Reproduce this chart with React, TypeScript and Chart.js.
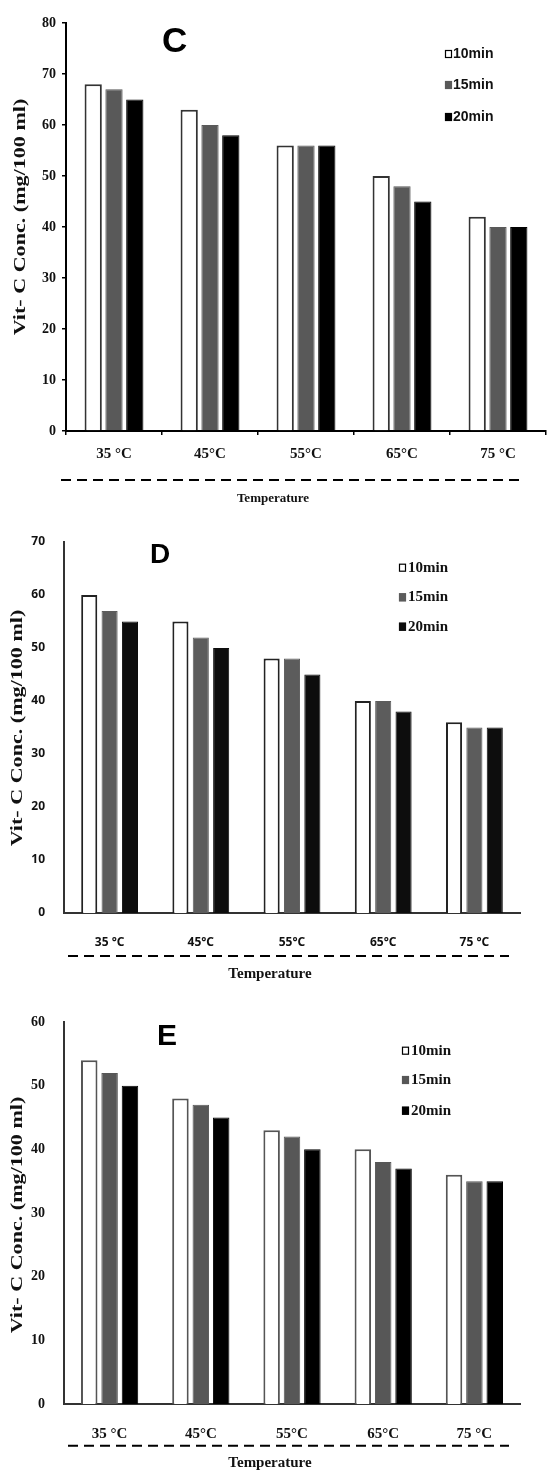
import React, { useEffect, useRef } from "react";
import { Chart, registerables } from "chart.js";

Chart.register(...registerables);

// ---------- DATA ----------
const categories = ["35 °C", "45°C", "55°C", "65°C", "75 °C"];
const seriesLabels = ["10min", "15min", "20min"];

const cTen = [68, 63, 56, 50, 42];
const cFifteen = [67, 60, 56, 48, 40];
const cTwenty = [65, 58, 56, 45, 40];

const dTen = [60, 55, 48, 40, 36];
const dFifteen = [57, 52, 48, 40, 35];
const dTwenty = [55, 50, 45, 38, 35];

const eTen = [54, 48, 43, 40, 36];
const eFifteen = [52, 47, 42, 38, 35];
const eTwenty = [50, 45, 40, 37, 35];

const cMax = 80;
const dMax = 70;
const eMax = 60;
const yStep = 10;

const yTitle = "Vit- C Conc. (mg/100 ml)";
const xTitle = "Temperature";

const SERIF = '"Liberation Serif", "Times New Roman", serif';
const SANS = '"Liberation Sans", Arial, sans-serif';

type PanelCfg = {
  letter: string;
  top: number;
  height: number;
  values: number[][];
  yMax: number;
  padTop: number;
  padRight: number;
  yWidth: number;
  xHeight: number;
  catPct: number;
  barPct: number;
  colors: { fill: string; border: string; bw: number }[];
  axisColor: string;
  axisWidth: number;
  tickMarks: boolean;
  yTickFont: any;
  xTickFont: any;
  yTickPad: number;
  xTickPad: number;
  letterSize: number;
  letterX: number;
  letterY: number;
  legendFont: string;
  legendY: number[];
  boxX: number;
  textX: number;
  dashY: number;
  dashX1: number;
  dashX2: number;
  xTitleFont: string;
  xTitleX: number;
  xTitleY: number;
  yTitleX: number;
  yTitleY: number;
  yTitleFont: string;
  yTitleScale: number;
};

const panels: PanelCfg[] = [
  {
    letter: "C",
    top: 0,
    height: 510,
    values: [cTen, cFifteen, cTwenty],
    yMax: cMax,
    padTop: 23,
    padRight: 1,
    yWidth: 66,
    xHeight: 79,
    catPct: 0.65,
    barPct: 0.83,
    colors: [
      { fill: "#ffffff", border: "#333333", bw: 2 },
      { fill: "#595959", border: "#595959", bw: 1 },
      { fill: "#000000", border: "#000000", bw: 1 },
    ],
    axisColor: "#000000",
    axisWidth: 2,
    tickMarks: true,
    yTickFont: { family: SERIF, size: 14, weight: "bold" },
    xTickFont: { family: SERIF, size: 15, weight: "bold" },
    yTickPad: 6,
    xTickPad: 10,
    letterSize: 35,
    letterX: 162,
    letterY: 52,
    legendFont: `bold 14px "Liberation Sans Narrow", ${SANS}`,
    legendY: [54, 85, 117],
    boxX: 445,
    textX: 453,
    dashY: 480,
    dashX1: 61,
    dashX2: 523,
    xTitleFont: `bold 13px ${SERIF}`,
    xTitleX: 273,
    xTitleY: 499,
    yTitleX: 21,
    yTitleY: 217,
    yTitleFont: `bold 17px ${SERIF}`,
    yTitleScale: 1.3,
  },
  {
    letter: "D",
    top: 510,
    height: 480,
    values: [dTen, dFifteen, dTwenty],
    yMax: dMax,
    padTop: 32,
    padRight: 27,
    yWidth: 64,
    xHeight: 77,
    catPct: 0.67,
    barPct: 0.79,
    colors: [
      { fill: "#ffffff", border: "#222222", bw: 2 },
      { fill: "#5c5c5c", border: "#5c5c5c", bw: 1 },
      { fill: "#0d0d0d", border: "#0d0d0d", bw: 1 },
    ],
    axisColor: "#333333",
    axisWidth: 2,
    tickMarks: false,
    yTickFont: { family: '"Noto Sans", sans-serif', size: 12, weight: "bold" },
    xTickFont: { family: '"Noto Sans", sans-serif', size: 12, weight: "bold" },
    yTickPad: 11,
    xTickPad: 14,
    letterSize: 28,
    letterX: 150,
    letterY: 53,
    legendFont: `bold 15px ${SERIF}`,
    legendY: [57.7, 87.3, 116.7],
    boxX: 399,
    textX: 408,
    dashY: 446,
    dashX1: 68,
    dashX2: 509,
    xTitleFont: `bold 15px ${SERIF}`,
    xTitleX: 270,
    xTitleY: 464,
    yTitleX: 18,
    yTitleY: 218,
    yTitleFont: `bold 17px ${SERIF}`,
    yTitleScale: 1.3,
  },
  {
    letter: "E",
    top: 990,
    height: 482,
    values: [eTen, eFifteen, eTwenty],
    yMax: eMax,
    padTop: 32,
    padRight: 27,
    yWidth: 64,
    xHeight: 68,
    catPct: 0.67,
    barPct: 0.81,
    colors: [
      { fill: "#ffffff", border: "#555555", bw: 2 },
      { fill: "#575757", border: "#575757", bw: 1 },
      { fill: "#000000", border: "#000000", bw: 1 },
    ],
    axisColor: "#333333",
    axisWidth: 2,
    tickMarks: false,
    yTickFont: { family: SERIF, size: 14, weight: "bold" },
    xTickFont: { family: SERIF, size: 15, weight: "bold" },
    yTickPad: 11,
    xTickPad: 13,
    letterSize: 30,
    letterX: 157,
    letterY: 55,
    legendFont: `bold 15px ${SERIF}`,
    legendY: [60.7, 90, 120.7],
    boxX: 402,
    textX: 411,
    dashY: 455.7,
    dashX1: 68,
    dashX2: 509,
    xTitleFont: `bold 15px ${SERIF}`,
    xTitleX: 270,
    xTitleY: 473,
    yTitleX: 18,
    yTitleY: 225,
    yTitleFont: `bold 17px ${SERIF}`,
    yTitleScale: 1.3,
  },
];

function makeDecor(cfg: PanelCfg) {
  return {
    id: "decor" + cfg.letter,
    afterDraw(chart: any) {
      const ctx = chart.ctx as CanvasRenderingContext2D;
      ctx.save();
      // panel letter
      ctx.fillStyle = "#000";
      ctx.textAlign = "left";
      ctx.textBaseline = "alphabetic";
      ctx.font = `bold ${cfg.letterSize}px ${SANS}`;
      ctx.fillText(cfg.letter, cfg.letterX, cfg.letterY);

      // legend
      chart.data.datasets.forEach((ds: any, i: number) => {
        const y = cfg.legendY[i];
        ctx.fillStyle = ds.backgroundColor;
        ctx.fillRect(cfg.boxX, y - 4, 7, 8);
        ctx.strokeStyle = i === 0 ? "#000" : ds.backgroundColor;
        ctx.lineWidth = 1.2;
        ctx.strokeRect(cfg.boxX + 0.5, y - 3.5, 6, 7);
        ctx.fillStyle = "#111";
        ctx.font = cfg.legendFont;
        ctx.textBaseline = "middle";
        ctx.textAlign = "left";
        ctx.fillText(ds.label, cfg.textX, y);
      });

      // dashed separator
      ctx.strokeStyle = "#000";
      ctx.lineWidth = 2;
      ctx.setLineDash([10, 6]);
      ctx.beginPath();
      ctx.moveTo(cfg.dashX1, cfg.dashY);
      ctx.lineTo(cfg.dashX2, cfg.dashY);
      ctx.stroke();
      ctx.setLineDash([]);

      // x title
      ctx.fillStyle = "#111";
      ctx.font = cfg.xTitleFont;
      ctx.textAlign = "center";
      ctx.textBaseline = "middle";
      ctx.fillText(xTitle, cfg.xTitleX, cfg.xTitleY);

      // y title
      ctx.translate(cfg.yTitleX, cfg.yTitleY);
      ctx.rotate(-Math.PI / 2);
      ctx.scale(cfg.yTitleScale, 1);
      ctx.font = cfg.yTitleFont;
      ctx.fillText(yTitle, 0, 0);
      ctx.restore();
    },
  };
}

function Panel({ cfg }: { cfg: PanelCfg }) {
  const ref = useRef<HTMLCanvasElement | null>(null);
  useEffect(() => {
    if (!ref.current) return;
    const gridOpts = cfg.tickMarks
      ? {
          display: true,
          drawOnChartArea: false,
          drawTicks: true,
          tickLength: 4,
          color: "#000",
          lineWidth: 1.5,
        }
      : { display: false };
    const chart = new Chart(ref.current, {
      type: "bar",
      data: {
        labels: categories,
        datasets: cfg.values.map((vals, i) => ({
          label: seriesLabels[i],
          data: vals,
          backgroundColor: cfg.colors[i].fill,
          borderColor: cfg.colors[i].border,
          borderWidth: cfg.colors[i].bw,
          borderSkipped: "bottom",
          categoryPercentage: cfg.catPct,
          barPercentage: cfg.barPct,
        })),
      },
      options: {
        responsive: false,
        maintainAspectRatio: false,
        animation: false,
        devicePixelRatio: 1,
        layout: {
          padding: { left: 0, top: cfg.padTop, right: cfg.padRight, bottom: 0 },
        },
        plugins: {
          legend: { display: false },
          title: { display: false },
          tooltip: { enabled: false },
        },
        scales: {
          x: {
            type: "category",
            offset: true,
            grid: { ...gridOpts, offset: true } as any,
            border: { display: true, color: cfg.axisColor, width: cfg.axisWidth },
            ticks: {
              font: cfg.xTickFont,
              color: "#111",
              padding: cfg.xTickPad,
              maxRotation: 0,
              autoSkip: false,
            },
            afterFit: (s: any) => {
              s.height = cfg.xHeight;
            },
          },
          y: {
            min: 0,
            max: cfg.yMax,
            grid: gridOpts as any,
            border: { display: true, color: cfg.axisColor, width: cfg.axisWidth },
            ticks: {
              stepSize: yStep,
              font: cfg.yTickFont,
              color: "#111",
              padding: cfg.yTickPad,
            },
            afterFit: (s: any) => {
              s.width = cfg.yWidth;
            },
          },
        },
      },
      plugins: [makeDecor(cfg)],
    });
    return () => chart.destroy();
  }, [cfg]);
  return (
    <canvas
      ref={ref}
      width={547}
      height={cfg.height}
      style={{
        position: "absolute",
        left: 0,
        top: cfg.top,
        width: 547,
        height: cfg.height,
      }}
    />
  );
}

export default function App() {
  return (
    <div
      style={{
        position: "absolute",
        left: 0,
        top: 0,
        width: 547,
        height: 1472,
        background: "#fff",
        overflow: "hidden",
      }}
    >
      {panels.map((p) => (
        <Panel key={p.letter} cfg={p} />
      ))}
    </div>
  );
}
